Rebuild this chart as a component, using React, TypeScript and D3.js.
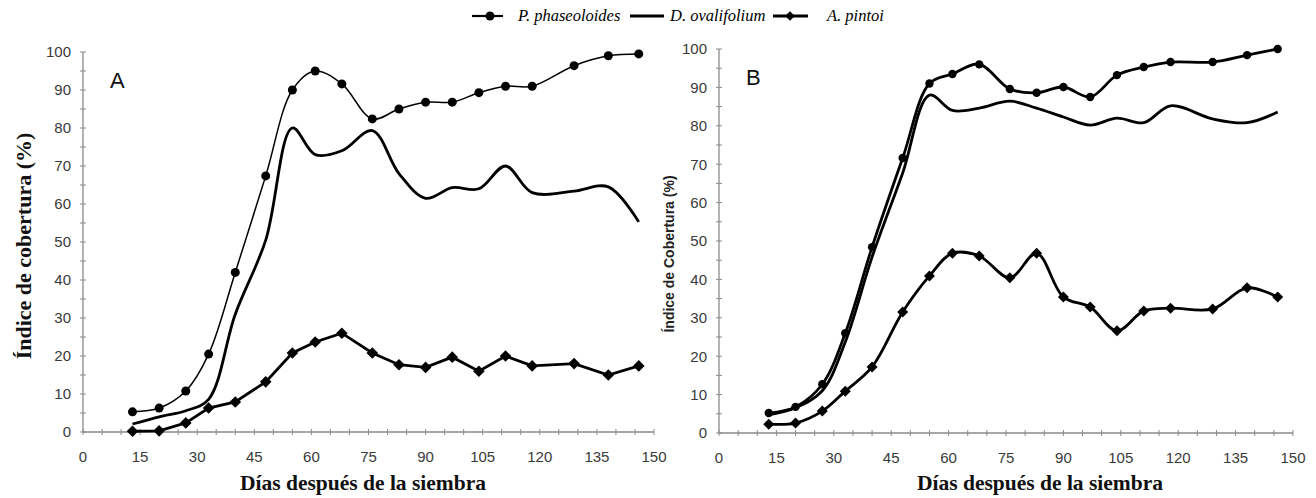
import React from "react";
import * as d3 from "d3";

const days = [13, 20, 27, 33, 40, 48, 55, 61, 68, 76, 83, 90, 97, 104, 111, 118, 129, 138, 146];

const phaseoloidesA = [5.3, 6.3, 10.8, 20.5, 42, 67.4, 90, 95, 91.6, 82.4, 85, 86.8, 86.8, 89.3, 91, 91, 96.4, 99, 99.5];
const ovalifoliumA = [2.1, 4, 5.6, 8.6, 31, 50.5, 80, 73, 74, 79.3, 68, 61.5, 64.3, 64, 70, 63, 63.4, 64.5, 55.3];
const pintoiA = [0.2, 0.3, 2.4, 6.3, 7.9, 13.2, 20.8, 23.7, 26, 20.8, 17.7, 17, 19.7, 16, 20, 17.4, 18, 15, 17.4];

const phaseoloidesB = [5.2, 6.8, 12.7, 26, 48.4, 71.6, 91, 93.5, 96, 89.6, 88.6, 90.1, 87.5, 93.2, 95.3, 96.6, 96.6, 98.4, 100];
const ovalifoliumB = [4.7, 6.6, 11, 23.7, 45.8, 67.7, 88, 84, 84.6, 86.4, 84.6, 82.3, 80.2, 82, 80.8, 85.2, 81.8, 80.8, 83.6];
const pintoiB = [2.3, 2.6, 5.7, 10.9, 17.2, 31.5, 40.9, 46.8, 46.1, 40.4, 46.8, 35.4, 32.8, 26.6, 31.8, 32.5, 32.3, 37.8, 35.4];

const xTicks = [0, 15, 30, 45, 60, 75, 90, 105, 120, 135, 150];
const yTicks = [0, 10, 20, 30, 40, 50, 60, 70, 80, 90, 100];

const legendNames = ["P. phaseoloides", "D. ovalifolium", "A. pintoi"];
const xTitle = "Días después de la siembra";

type PanelProps = {
  x0: number; x1: number; y0: number; y1: number;
  phas: number[]; oval: number[]; pint: number[];
  letter: string; thin: boolean; pintoiSmooth: boolean; r: number;
};

const axisGray = "#8a8a8a";
const tickText = "#3a3a3a";
const sans = "'Liberation Sans', Arial, sans-serif";
const serif = "'Liberation Serif', 'Times New Roman', 'DejaVu Serif', serif";

function diamond(cx: number, cy: number, s: number) {
  return `M${cx},${cy - s}L${cx + s},${cy}L${cx},${cy + s}L${cx - s},${cy}Z`;
}

function Panel(p: PanelProps) {
  const x = d3.scaleLinear().domain([0, 150]).range([p.x0, p.x1]);
  const y = d3.scaleLinear().domain([0, 100]).range([p.y0, p.y1]);
  const smooth = d3.line<number>().x((_, i) => x(days[i])).y((v) => y(v)).curve(d3.curveCatmullRom.alpha(0.5));
  const straight = d3.line<number>().x((_, i) => x(days[i])).y((v) => y(v));
  const minorX = d3.range(0, 151, 5);
  const minorY = d3.range(0, 101, 5);
  return (
    <g>
      <line x1={p.x0} x2={p.x0} y1={p.y0} y2={p.y1} stroke={axisGray} strokeWidth={1.3} />
      <line x1={p.x0} x2={p.x1} y1={p.y0} y2={p.y0} stroke={axisGray} strokeWidth={1.3} />
      {minorX.map((t) => (
        <line key={"xt" + t} x1={x(t)} x2={x(t)} y1={p.y0 - 3} y2={p.y0 + 3} stroke={axisGray} strokeWidth={1} />
      ))}
      {minorY.map((t) => (
        <line key={"yt" + t} x1={p.x0 - 3} x2={p.x0 + 3} y1={y(t)} y2={y(t)} stroke={axisGray} strokeWidth={1} />
      ))}
      {xTicks.map((t) => (
        <text key={"xl" + t} x={x(t)} y={p.y0 + 30} textAnchor="middle" style={{ fontFamily: sans }} fontSize={15} fill={tickText}>{t}</text>
      ))}
      {yTicks.map((t) => (
        <text key={"yl" + t} x={p.x0 - 12} y={y(t) + 5.3} textAnchor="end" style={{ fontFamily: sans }} fontSize={15} fill={tickText}>{t}</text>
      ))}
      <text x={p.x0 + 27} y={p.y1 + 36} style={{ fontFamily: sans }} fontSize={22} fill="#111">{p.letter}</text>
      <path d={smooth(p.oval) || ""} fill="none" stroke="#000" strokeWidth={2.8} />
      <path d={smooth(p.phas) || ""} fill="none" stroke="#000" strokeWidth={p.thin ? 1.5 : 2.8} />
      <path d={(p.pintoiSmooth ? smooth(p.pint) : straight(p.pint)) || ""} fill="none" stroke="#000" strokeWidth={2.8} />
      {p.phas.map((v, i) => (
        <circle key={"c" + i} cx={x(days[i])} cy={y(v)} r={p.r} fill="#000" />
      ))}
      {p.pint.map((v, i) => (
        <path key={"d" + i} d={diamond(x(days[i]), y(v), p.r + 1.3)} fill="#000" />
      ))}
    </g>
  );
}

export default function App() {
  const ly = 16;
  const serifStyle = { fontFamily: serif };
  return (
    <svg width={1316} height={498} style={{ position: "absolute", left: 0, top: 0, background: "#fff" }}>
      <rect width={1316} height={498} fill="#fff" />
      <g>
        <line x1={472} x2={503} y1={ly} y2={ly} stroke="#000" strokeWidth={2.2} />
        <circle cx={490} cy={ly} r={4.5} fill="#000" />
        <text x={518} y={ly + 5} style={serifStyle} fontStyle="italic" fontSize={16.5} fill="#000">{legendNames[0]}</text>
        <line x1={630} x2={664} y1={ly} y2={ly} stroke="#000" strokeWidth={2.8} />
        <text x={670} y={ly + 5} style={serifStyle} fontStyle="italic" fontSize={16.5} fill="#000">{legendNames[1]}</text>
        <line x1={773} x2={808} y1={ly} y2={ly} stroke="#000" strokeWidth={2.8} />
        <path d={diamond(790, ly, 4.8)} fill="#000" />
        <text x={827} y={ly + 5} style={serifStyle} fontStyle="italic" fontSize={16.5} fill="#000">{legendNames[2]}</text>
      </g>
      <Panel x0={83} x1={654} y0={432} y1={52} phas={phaseoloidesA} oval={ovalifoliumA} pint={pintoiA} letter="A" thin={true} pintoiSmooth={false} r={4.5} />
      <Panel x0={719} x1={1293} y0={433} y1={49} phas={phaseoloidesB} oval={ovalifoliumB} pint={pintoiB} letter="B" thin={false} pintoiSmooth={true} r={4.2} />
      <text x={363} y={490} textAnchor="middle" style={serifStyle} fontWeight="bold" fontSize={21.5} fill="#111">{xTitle}</text>
      <text x={1040} y={490} textAnchor="middle" style={serifStyle} fontWeight="bold" fontSize={21.5} fill="#111">{xTitle}</text>
      <text transform="translate(31,246) rotate(-90)" textAnchor="middle" style={serifStyle} fontWeight="bold" fontSize={22} fill="#111">Índice de cobertura (%)</text>
      <text transform="translate(674,254) rotate(-90)" textAnchor="middle" style={{ fontFamily: sans }} fontWeight="bold" fontSize={14} fill="#222">Índice de Cobertura (%)</text>
    </svg>
  );
}
